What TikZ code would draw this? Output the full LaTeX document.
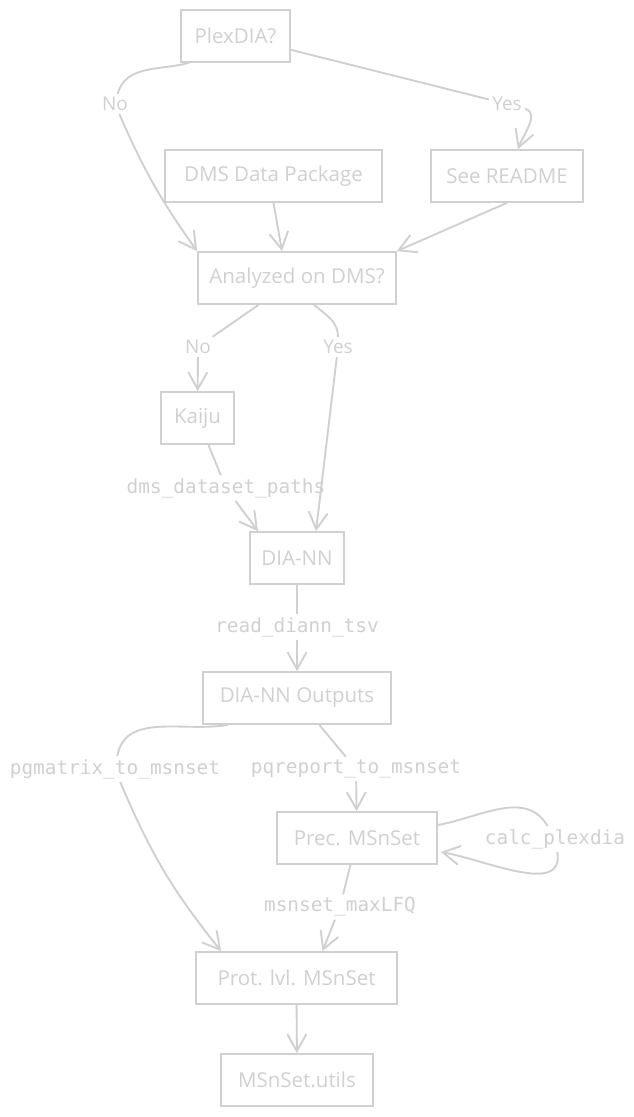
\documentclass[tikz,border=0pt]{standalone}
\usepackage{fontspec}
\usepackage{tikz}
\usepackage{xcolor}
\usetikzlibrary{arrows.meta, positioning, calc}
\setmainfont{Open Sans}
\newfontfamily\codefont{DejaVu Sans Mono}
\definecolor{sketch}{RGB}{208,208,208}
\tikzset{
  box/.style={draw=sketch, line width=1.7pt, minimum height=52pt, inner sep=2pt, text=sketch, font=\fontsize{20.5}{23}\selectfont},
  lbl/.style={text=sketch, inner sep=3pt, font=\fontsize{19.4}{22}\selectfont\codefont},
  yn/.style={text=sketch, inner sep=3pt, font=\fontsize{19}{22}\selectfont},
  lnk/.style={draw=sketch, line width=1.9pt}
}

\begin{document}
\begin{tikzpicture}[x=1pt, y=1pt, >={Straight Barb[length=17pt,width=19pt]}]
\useasboundingbox (0,0) rectangle (634,1117);

% Boxes
\node[box, minimum width=109pt] (plex) at (235.5,1081) {PlexDIA?};
\node[box, minimum width=217pt] (dms) at (273.5,941) {DMS Data Package};
\node[box, minimum width=152pt] (readme) at (507,941) {See README};
\node[box, minimum width=198pt] (ana) at (297,839) {Analyzed on DMS?};
\node[box, minimum width=73pt] (kaiju) at (197.5,699) {Kaiju};
\node[box, minimum width=94pt] (diann) at (297,559) {DIA-NN};
\node[box, minimum width=188pt] (outs) at (297,419) {DIA-NN Outputs};
\node[box, minimum width=160pt] (prec) at (357,279) {Prec. MSnSet};
\node[box, minimum width=201pt] (prot) at (296.5,139) {Prot. lvl. MSnSet};
\node[box, minimum width=152pt] (utils) at (297,37) {MSnSet.utils};

% Edge labels
\node[yn] (no1) at (115,1013) {No};
\node[yn] (yes1) at (507,1013) {Yes};
\node[yn] (no2) at (198,770) {No};
\node[yn] (yes2) at (338,770) {Yes};
\node[lbl] (paths) at (226,629) {dms\_dataset\_paths};
\node[lbl] (readtsv) at (297,490) {read\_diann\_tsv};
\node[lbl] (pgm) at (115,348) {pgmatrix\_to\_msnset};
\node[lbl] (pqr) at (356,348) {pqreport\_to\_msnset};
\node[lbl] (plx) at (555,278) {calc\_plexdia};
\node[lbl] (maxlfq) at (340,210) {msnset\_maxLFQ};

% PlexDIA branch
\draw[lnk] ([xshift=9pt]plex.south west) to[out=195,in=75] (no1);
\draw[lnk, ->] (no1) to[bend right=6] (ana.north west);
\draw[lnk] (plex) -- (yes1);
\draw[lnk, ->] (yes1) to[out=-15,in=70] ([xshift=11pt]readme.north);
\draw[lnk, ->] (dms.south) -- ([xshift=-15pt]ana.north);
\draw[lnk, ->] (readme.south) -- (ana.north east);

% DMS branch
\draw[lnk] (ana) -- (no2);
\draw[lnk, ->] (no2) -- (kaiju);
\draw[lnk] ([xshift=17pt]ana.south) to[out=-40,in=90] (yes2);
\draw[lnk, ->] (yes2) -- ([xshift=19pt]diann.north);
\draw[lnk] (kaiju) -- (paths);
\draw[lnk, ->] (paths) -- ([xshift=-39pt]diann.north);

% DIA-NN outputs
\draw[lnk] (diann) -- (readtsv);
\draw[lnk, ->] (readtsv) -- (outs);
\draw[lnk] ([xshift=-69pt]outs.south) to[out=190,in=80] (pgm);
\draw[lnk, ->] (pgm) to[bend right=8] ([xshift=26pt]prot.north west);
\draw[lnk] (outs) -- (pqr);
\draw[lnk, ->] (pqr) -- (prec);

% Self loop
\draw[lnk] ([yshift=13pt]prec.east) to[out=10,in=120] (plx);
\draw[lnk, ->] (plx) to[out=-80,in=-10] ([xshift=3pt,yshift=-14pt]prec.east);

% MSnSet
\draw[lnk] (prec) -- (maxlfq);
\draw[lnk, ->] (maxlfq) -- ([xshift=26pt]prot.north);
\draw[lnk, ->] (prot) -- (utils);
\end{tikzpicture}
\end{document}
